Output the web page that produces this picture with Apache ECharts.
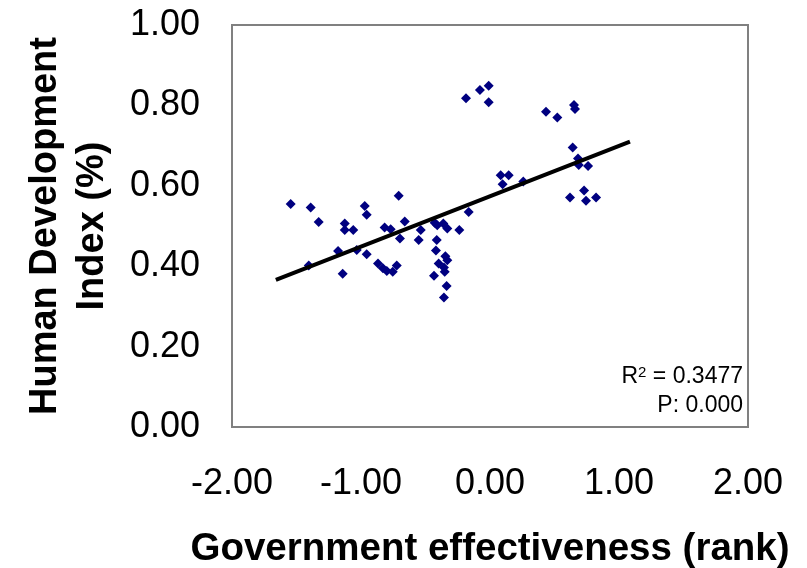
<!DOCTYPE html>
<html>
<head>
<meta charset="utf-8">
<script src="https://cdn.jsdelivr.net/npm/echarts@6/dist/echarts.min.js"></script>
<style>html,body{margin:0;padding:0;background:#fff}#c{width:807px;height:568px}</style>
</head>
<body>
<div id="c"></div>
<script>
// Government effectiveness (rank) vs Human Development Index
const govX = [-1.545,-1.39,-1.328,-1.405,-1.178,-1.142,-1.126,-1.126,-1.06,-1.033,-0.971,-0.956,-0.956,-0.868,-0.83,-0.80,-0.754,-0.723,-0.817,-0.77,-0.708,-0.661,-0.698,-0.553,-0.537,-0.429,-0.409,-0.362,-0.331,-0.238,-0.165,-0.413,-0.419,-0.346,-0.331,-0.398,-0.357,-0.351,-0.434,-0.336,-0.357,-0.186,-0.078,-0.01,-0.01,0.083,0.145,0.098,0.258,0.434,0.522,0.651,0.659,0.641,0.682,0.688,0.76,0.62,0.729,0.744,0.822];
const hdiY = [0.555,0.546,0.51,0.402,0.438,0.381,0.506,0.49,0.49,0.44,0.55,0.528,0.43,0.407,0.395,0.388,0.386,0.402,0.496,0.492,0.575,0.511,0.469,0.465,0.49,0.508,0.502,0.506,0.494,0.49,0.535,0.465,0.439,0.425,0.415,0.407,0.397,0.386,0.376,0.351,0.322,0.818,0.838,0.849,0.808,0.626,0.626,0.604,0.611,0.784,0.77,0.801,0.791,0.695,0.668,0.652,0.649,0.571,0.588,0.563,0.571];
const trendX = [-1.66, 1.085];
const trendY = [0.366, 0.71];
const xTicks = [-2, -1, 0, 1, 2];
const yTicks = [0, 0.2, 0.4, 0.6, 0.8, 1.0];
const r2Text = '0.3477';
const pText = '0.000';

const pts = govX.map((x, i) => [x, hdiY[i]]);
const trend = trendX.map((x, i) => [x, trendY[i]]);

const chart = echarts.init(document.getElementById('c'));
const font = 'Liberation Sans, Arial, sans-serif';
chart.setOption({
  animation: false,
  backgroundColor: '#ffffff',
  grid: {left: 232, right: 59, top: 25, bottom: 141, show: true, borderColor: '#808080', borderWidth: 2, backgroundColor: 'transparent', containLabel: false, outerBoundsMode: 'none'},
  xAxis: {
    type: 'value', min: xTicks[0], max: xTicks[xTicks.length - 1], interval: 1,
    axisLine: {show: false}, axisTick: {show: false}, splitLine: {show: false},
    axisLabel: {fontFamily: font, fontSize: 36, color: '#000', margin: 39, formatter: v => v.toFixed(2)},
    name: 'Government effectiveness (rank)', nameLocation: 'middle', nameGap: 103,
    nameTextStyle: {fontFamily: font, fontSize: 38.5, fontWeight: 'bold', color: '#000'}
  },
  yAxis: {
    type: 'value', min: yTicks[0], max: yTicks[yTicks.length - 1], interval: 0.2,
    axisLine: {show: false}, axisTick: {show: false}, splitLine: {show: false},
    axisLabel: {fontFamily: font, fontSize: 36, color: '#000', margin: 32, padding: [10, 0, 0, 0], formatter: v => v.toFixed(2)},
    name: 'Human Development\nIndex (%)', nameLocation: 'middle', nameRotate: 90, nameGap: 116,
    nameTextStyle: {fontFamily: font, fontSize: 38, fontWeight: 'bold', color: '#000', lineHeight: 47}
  },
  series: [
    {type: 'scatter', data: pts, symbol: 'diamond', symbolSize: 10, itemStyle: {color: '#000080', opacity: 1}, z: 3},
    {type: 'line', data: trend, showSymbol: false, symbol: 'none', lineStyle: {color: '#000', width: 4}, z: 4}
  ],
  graphic: [
    {type: 'text', right: 807 - 743, top: 365, style: {
      rich: {a: {fontFamily: font, fontSize: 23, fill: '#000'}, s: {fontFamily: font, fontSize: 15, fill: '#000', verticalAlign: 'top'}},
      text: '{a|R}{s|2}{a| = ' + r2Text + '}', textAlign: 'right'}},
    {type: 'text', right: 807 - 743, top: 394, style: {
      text: 'P: ' + pText, fontFamily: font, fontSize: 23, fill: '#000', textAlign: 'right'}}
  ]
});
</script>
</body>
</html>
